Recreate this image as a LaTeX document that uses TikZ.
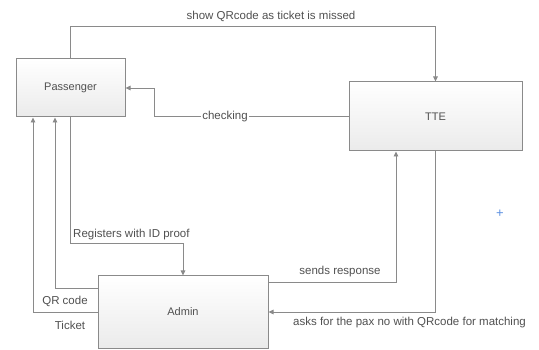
\documentclass[tikz,border=0pt]{standalone}
\usepackage{fontspec}
\setmainfont{Liberation Sans}
\usetikzlibrary{arrows.meta}
\definecolor{lc}{HTML}{8A8A8A}
\definecolor{tc}{HTML}{505050}
\definecolor{pc}{HTML}{5A8FE0}
\begin{document}
\begin{tikzpicture}[x=1pt,y=-1pt,
  box/.style={draw=lc,line width=1pt,top color=white,bottom color=gray!16,text=tc,font=\fontsize{11}{13}\selectfont,inner sep=0pt},
  arr/.style={draw=lc,line width=0.9pt,-{Triangle[length=5pt,width=4.5pt]}},
  lbl/.style={text=tc,font=\fontsize{11.5}{13}\selectfont,inner sep=1pt}]
\useasboundingbox (0,0) rectangle (539,350);
\node[box,minimum width=109pt,minimum height=58pt] (P) at (70.5,88) {Passenger};
\node[box,minimum width=173pt,minimum height=69pt] (T) at (435.5,116.5) {TTE};
\node[box,minimum width=170pt,minimum height=72pt] (A) at (183,312) {Admin};
\coordinate (top) at (0,26);
\coordinate (ck) at (154,0);
\coordinate (regy) at (0,243);
\coordinate (q1) at (55,288);
\coordinate (t1) at (33,312);
\coordinate (s1) at (396,282);
\draw[arr] (P.north) -- (P.north |- top) -- (T.north |- top) -- (T.north);
\draw[arr] (T.west) -- (ck |- T.west) -- (ck |- P.east) -- (P.east);
\draw[arr] (P.south) -- (P.south |- regy) -| (A.north);
\draw[arr] (A.west |- q1) -- (q1) -- (q1 |- P.south);
\draw[arr] (A.west |- t1) -- (t1) -- (t1 |- P.south);
\draw[arr] (A.east |- s1) -- (s1) -- (s1 |- T.south);
\draw[arr] (T.south) |- (A.east);
\node[lbl] (l1) at (271,16) {show QRcode as ticket is missed};
\node[lbl,fill=white] (l2) at (225,117) {checking};
\node[lbl,anchor=west] (l3) at (72,235) {Registers with ID proof};
\node[lbl] (l4) at (65,301) {QR code};
\node[lbl] (l5) at (70,325) {Ticket};
\node[lbl] (l6) at (340,272) {sends response};
\node[lbl,anchor=west] (l7) at (292,323) {asks for the pax no with QRcode for matching};
\node[text=pc,font=\fontsize{13}{13}\selectfont,inner sep=0pt] (plus) at (500,214) {+};
\end{tikzpicture}
\end{document}
